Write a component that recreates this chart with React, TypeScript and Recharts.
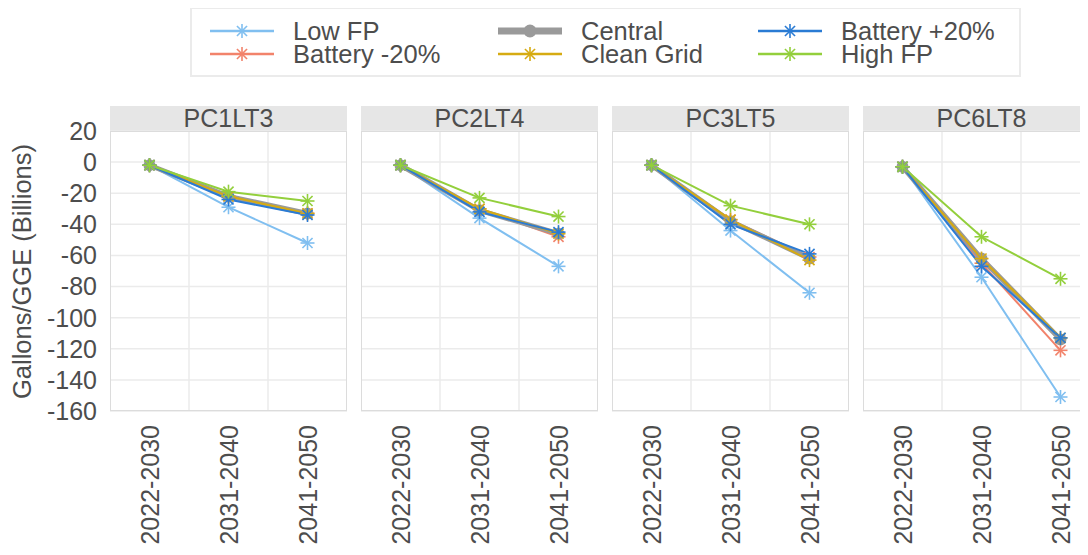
import React from "react";
import { CartesianGrid, Line, LineChart, ReferenceLine, XAxis, YAxis } from "recharts";

const periods = ["2022-2030", "2031-2040", "2041-2050"];
const panels = ["PC1LT3", "PC2LT4", "PC3LT5", "PC6LT8"];
const yTicks = [20, 0, -20, -40, -60, -80, -100, -120, -140, -160];

// one list per panel (PC1LT3, PC2LT4, PC3LT5, PC6LT8), one value per period
const lowFP = [[-2, -29, -52], [-2, -36, -67], [-2, -44, -84], [-3, -74, -151]];
const batteryMinus20 = [[-2, -22, -33], [-2, -30, -48], [-2, -37, -61], [-3, -65, -121]];
const central = [[-2, -22, -33], [-2, -31, -46], [-2, -38, -62], [-3, -62, -114]];
const cleanGrid = [[-2, -22, -33], [-2, -30, -46], [-2, -37, -63], [-3, -62, -113]];
const batteryPlus20 = [[-2, -24, -34], [-2, -32, -45], [-2, -40, -59], [-3, -67, -113]];
const highFP = [[-2, -19, -25], [-2, -23, -35], [-2, -28, -40], [-3, -48, -75]];

const series = [
  { key: "lowFP", name: "Low FP", color: "#80bff0", values: lowFP, shape: "star" },
  { key: "batteryMinus20", name: "Battery -20%", color: "#f2836b", values: batteryMinus20, shape: "star" },
  { key: "central", name: "Central", color: "#9a9a9a", values: central, shape: "circle" },
  { key: "cleanGrid", name: "Clean Grid", color: "#d6ab12", values: cleanGrid, shape: "star" },
  { key: "batteryPlus20", name: "Battery +20%", color: "#2a7bd4", values: batteryPlus20, shape: "star" },
  { key: "highFP", name: "High FP", color: "#93cf3c", values: highFP, shape: "star" },
];

const FONT = '"Liberation Sans", Arial, sans-serif';
const TEXT = "#4d4d4d";
const GRID = "#ebebeb";

const PANEL_LEFT = 110;
const PANEL_STEP = 251;
const PANEL_W = 237;
const STRIP_TOP = 106;
const PLOT_TOP = 131;
const PLOT_H = 280;
const XAXIS_H = 144;
const YAXIS_W = 110;
const TOP_PAD = 16; // room above the plot so the "20" tick label is not clipped

function Asterisk({ cx, cy, color, r = 7 }: { cx: number; cy: number; color: string; r?: number }) {
  const d = r * 0.72;
  return (
    <g stroke={color} strokeWidth={1.6}>
      <line x1={cx} y1={cy - r} x2={cx} y2={cy + r} />
      <line x1={cx - r} y1={cy} x2={cx + r} y2={cy} />
      <line x1={cx - d} y1={cy - d} x2={cx + d} y2={cy + d} />
      <line x1={cx - d} y1={cy + d} x2={cx + d} y2={cy - d} />
    </g>
  );
}

function makeDot(color: string, shape: string) {
  return (props: any) => {
    const { cx, cy, index } = props;
    if (cx == null || cy == null) return <g key={index} />;
    if (shape === "circle") return <circle key={index} cx={cx} cy={cy} r={6} fill={color} />;
    return <Asterisk key={index} cx={cx} cy={cy} color={color} />;
  };
}

function PeriodTick(props: any) {
  const { x, y, payload } = props;
  return (
    <text
      x={x}
      y={y}
      transform={`rotate(-90 ${x} ${y})`}
      textAnchor="end"
      dominantBaseline="central"
      fontSize={25}
      fontFamily={FONT}
      fill={TEXT}
    >
      {periods[payload.value]}
    </text>
  );
}

function Panel({ p }: { p: number }) {
  const first = p === 0;
  const data = periods.map((period, i) => {
    const row: Record<string, number | string> = { i, period };
    series.forEach((s) => (row[s.key] = s.values[p][i]));
    return row;
  });
  const left = PANEL_LEFT + p * PANEL_STEP;
  return (
    <>
      <div
        style={{
          position: "absolute",
          left,
          top: STRIP_TOP,
          width: PANEL_W,
          height: PLOT_TOP - STRIP_TOP,
          background: "#e6e6e6",
          color: TEXT,
          fontSize: 25,
          lineHeight: `${PLOT_TOP - STRIP_TOP}px`,
          textAlign: "center",
        }}
      >
        {panels[p]}
      </div>
      <div style={{ position: "absolute", left: first ? left - YAXIS_W : left, top: PLOT_TOP - TOP_PAD }}>
        <LineChart
          width={PANEL_W + (first ? YAXIS_W : 0)}
          height={TOP_PAD + PLOT_H + XAXIS_H}
          data={data}
          margin={{ top: TOP_PAD, right: 0, left: 0, bottom: 0 }}
        >
          <CartesianGrid stroke={GRID} strokeWidth={1.5} vertical={false} />
          <ReferenceLine x={0.5} stroke={GRID} strokeWidth={1.5} />
          <ReferenceLine x={1.5} stroke={GRID} strokeWidth={1.5} />
          <XAxis
            type="number"
            dataKey="i"
            domain={[-0.5, 2.5]}
            ticks={[0, 1, 2]}
            interval={0}
            tick={<PeriodTick />}
            tickLine={false}
            axisLine={false}
            tickMargin={8}
            height={XAXIS_H}
          />
          <YAxis
            type="number"
            domain={[-160, 20]}
            ticks={yTicks}
            interval={0}
            hide={!first}
            width={YAXIS_W}
            tickLine={false}
            axisLine={false}
            tickSize={5}
            tickMargin={8}
            tick={{ fontSize: 25, fill: TEXT, fontFamily: FONT }}
          />
          {series.map((s) => (
            <Line
              key={s.key}
              dataKey={s.key}
              name={s.name}
              stroke={s.color}
              strokeWidth={s.shape === "circle" ? 5 : 2}
              dot={makeDot(s.color, s.shape)}
              activeDot={false}
              isAnimationActive={false}
            />
          ))}
        </LineChart>
      </div>
      <div
        style={{
          position: "absolute",
          left,
          top: PLOT_TOP,
          width: PANEL_W,
          height: PLOT_H,
          border: "1.5px solid #dcdcdc",
          boxSizing: "border-box",
          pointerEvents: "none",
        }}
      />
    </>
  );
}

// legend fills column by column, two rows
const legendCols = [18, 306, 566];
const legendRows = [22, 45];

function Legend() {
  return (
    <div
      style={{
        position: "absolute",
        left: 190,
        top: 7,
        width: 831,
        height: 70,
        border: "2px solid #ebebeb",
        boxSizing: "border-box",
      }}
    >
      {series.map((s, k) => {
        const cx = legendCols[Math.floor(k / 2)];
        const cy = legendRows[k % 2];
        return (
          <div key={s.key} style={{ position: "absolute", left: cx, top: cy - 11, height: 22 }}>
            <svg width={64} height={22} style={{ position: "absolute", left: 0, top: 0 }}>
              {s.shape === "circle" ? (
                <>
                  <line x1={0} y1={11} x2={64} y2={11} stroke={s.color} strokeWidth={7} />
                  <circle cx={32} cy={11} r={6.5} fill={s.color} />
                </>
              ) : (
                <>
                  <line x1={0} y1={11} x2={64} y2={11} stroke={s.color} strokeWidth={2.5} />
                  <Asterisk cx={32} cy={11} color={s.color} />
                </>
              )}
            </svg>
            <span
              style={{
                position: "absolute",
                left: 83,
                top: 0,
                fontSize: 25.5,
                lineHeight: "22px",
                color: TEXT,
                whiteSpace: "nowrap",
              }}
            >
              {s.name}
            </span>
          </div>
        );
      })}
    </div>
  );
}

export default function App() {
  return (
    <div
      style={{
        position: "relative",
        width: 1088,
        height: 555,
        margin: -8,
        overflow: "hidden",
        background: "#fff",
        fontFamily: FONT,
      }}
    >
      <Legend />
      <div
        style={{
          position: "absolute",
          left: 0,
          top: PLOT_TOP,
          width: 46,
          height: PLOT_H,
          display: "flex",
          alignItems: "center",
          justifyContent: "center",
        }}
      >
        <span
          style={{
            transform: "rotate(-90deg)",
            whiteSpace: "nowrap",
            fontSize: 25.5,
            color: TEXT,
          }}
        >
          Gallons/GGE (Billions)
        </span>
      </div>
      {panels.map((_, p) => (
        <Panel key={p} p={p} />
      ))}
    </div>
  );
}
